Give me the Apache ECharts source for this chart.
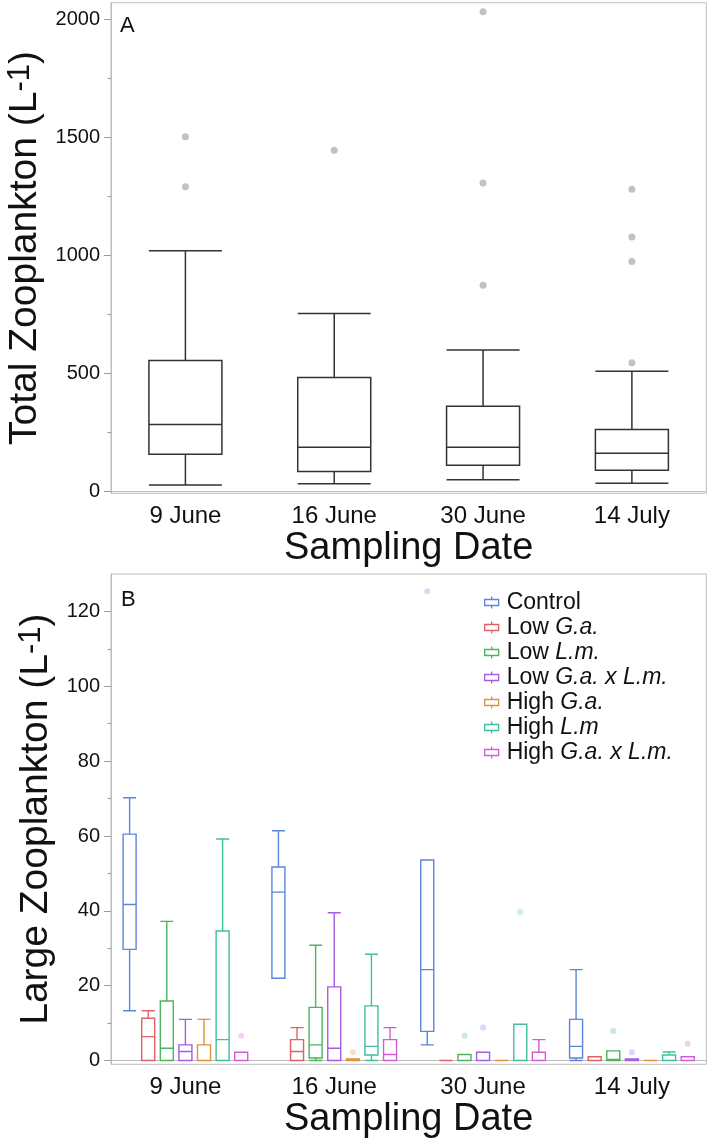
<!DOCTYPE html>
<html><head><meta charset="utf-8">
<script src="https://cdn.jsdelivr.net/npm/echarts@6/dist/echarts.min.js"></script>
<style>html,body{margin:0;padding:0;background:#fff}#c{width:709px;height:1140px}</style>
</head><body><div id="c"></div>
<script>
// ---------- data ----------
const dates = ['9 June', '16 June', '30 June', '14 July'];

// Panel A: [lower whisker, Q1, median, Q3, upper whisker]
const totalBox = [
  [28, 158, 284, 555, 1020],
  [33, 85, 188, 483, 754],
  [50, 112, 188, 362, 600],
  [36, 91, 163, 263, 510]
];
const totalOutliers = [
  ['9 June', 1503], ['9 June', 1291],
  ['16 June', 1445],
  ['30 June', 2032], ['30 June', 1307], ['30 June', 874],
  ['14 July', 1280], ['14 July', 1078], ['14 July', 974], ['14 July', 546]
];
const totalTicks = [0, 500, 1000, 1500, 2000];
const totalMinorTicks = [250, 750, 1250, 1750];

// Panel B
const treatments = ['Control', 'Low G.a.', 'Low L.m.', 'Low G.a. x L.m.', 'High G.a.', 'High L.m', 'High G.a. x L.m.'];
const controlBox   = [[13.3, 29.7, 41.7, 60.5, 70.2], [22, 22, 45, 51.7, 61.4], [4.2, 7.8, 24.3, 53.6, 53.6], [0, 0.7, 3.8, 11, 24.3]];
const lowGaBox     = [[0, 0, 6.4, 11.3, 13.3], [0, 0, 2.4, 5.6, 8.8], [0, 0, 0, 0, 0], [0, 0, 0, 1, 1]];
const lowLmBox     = [[0, 0, 3.3, 15.9, 37.2], [0, 0.7, 4.2, 14.2, 30.8], [0, 0, 0, 1.6, 1.6], [0, 0, 0.3, 2.6, 2.6]];
const lowGaLmBox   = [[0, 0, 2.4, 4.2, 11], [0, 0, 3.3, 19.7, 39.5], [0, 0, 0, 2.2, 2.2], [0, 0, 0.2, 0.4, 0.4]];
const highGaBox    = [[0, 0, 0, 4.2, 11], [0, 0, 0, 0.4, 0.4], [0, 0, 0, 0, 0], [0, 0, 0, 0, 0]];
const highLmBox    = [[0, 0, 5.6, 34.6, 59.2], [0, 1.5, 3.8, 14.6, 28.4], [0, 0, 0, 9.7, 9.7], [0, 0, 0, 1.5, 2.3]];
const highGaLmBox  = [[0, 0, 0, 2.2, 2.2], [0, 0, 1.6, 5.6, 8.8], [0, 0, 0, 2.2, 5.6], [0, 0, 0, 1, 1]];

const controlOut  = [['30 June', 125.4]];
const lowGaOut    = [];
const lowLmOut    = [['30 June', 6.6], ['14 July', 7.9]];
const lowGaLmOut  = [['30 June', 8.8], ['14 July', 2.2]];
const highGaOut   = [['16 June', 2.2]];
const highLmOut   = [['30 June', 39.7]];
const highGaLmOut = [['9 June', 6.6], ['14 July', 4.5]];

const largeTicks = [0, 20, 40, 60, 80, 100, 120];
const largeMinorTicks = [10, 30, 50, 70, 90, 110];

// ---------- style / layout ----------
const boxesB = [controlBox, lowGaBox, lowLmBox, lowGaLmBox, highGaBox, highLmBox, highGaLmBox];
const outB = [controlOut, lowGaOut, lowLmOut, lowGaLmOut, highGaOut, highLmOut, highGaLmOut];
const colors = ['#5a86dc', '#dd6368', '#4cb45e', '#a55de2', '#e0923a', '#3fbfa0', '#d25bd6'];
const outColors = ['rgba(90,134,220,0.35)', 'rgba(221,99,104,0.35)', 'rgba(76,180,94,0.35)', 'rgba(165,93,226,0.35)', 'rgba(224,146,58,0.35)', 'rgba(63,191,160,0.35)', 'rgba(210,91,214,0.35)'];
const legendRich = {
  'Control': 'Control',
  'Low G.a.': 'Low {i|G.a.}',
  'Low L.m.': 'Low {i|L.m.}',
  'Low G.a. x L.m.': 'Low {i|G.a. x L.m.}',
  'High G.a.': 'High {i|G.a.}',
  'High L.m': 'High {i|L.m}',
  'High G.a. x L.m.': 'High {i|G.a. x L.m.}'
};

const FONT = '"Liberation Sans", Arial, Helvetica, sans-serif';
const TXT = '#111';
const FRAME = '#bdbdbd';
const TICK = '#9a9a9a';
const GL = 111, GW = 595.3;
const A_TOP = 2.7, A_H = 490.6;
const B_TOP = 574, B_H = 490.3;
const slot = GW / 4 / 8;

function mkGrid(left, top, height, show) {
  return { left: left, width: GW, top: top, height: height, show: show, borderColor: FRAME, borderWidth: 1,
           containLabel: false, outerBoundsMode: 'none' };
}
const grids = [mkGrid(GL, A_TOP, A_H, true), mkGrid(GL, B_TOP, B_H, true)];
const xAxes = [];
const yAxes = [];
function catAxis(gi, name, gap) {
  return {
    gridIndex: gi, type: 'category', data: dates,
    axisLine: { show: true, lineStyle: { color: FRAME } },
    axisTick: { show: false },
    axisLabel: { fontSize: 24, color: TXT, fontFamily: FONT, margin: 11 },
    name: name, nameLocation: 'middle', nameGap: gap,
    nameTextStyle: { fontSize: 38, color: TXT, fontFamily: FONT }
  };
}
xAxes.push(catAxis(0, 'Sampling Date', 35));
xAxes.push(catAxis(1, 'Sampling Date', 36));

function valAxis(gi, min, max, ticks, nameStr, gap) {
  return {
    gridIndex: gi, type: 'value', position: 'left', offset: 0, min: min, max: max,
    axisLine: { show: true, lineStyle: { color: FRAME } },
    axisTick: { show: true, length: 7, lineStyle: { color: TICK }, customValues: ticks },
    axisLabel: { customValues: ticks, fontSize: 20, color: TXT, fontFamily: FONT, margin: 11,
                 formatter: function (v) { return String(v); } },
    splitLine: { show: false },
    name: nameStr, nameLocation: 'middle', nameGap: gap,
    nameTextStyle: {
      color: TXT, fontFamily: FONT,
      rich: {
        t: { fontSize: 39, lineHeight: 40, fontFamily: FONT, color: TXT },
        s: { fontSize: 31, lineHeight: 31, verticalAlign: 'top', fontFamily: FONT, color: TXT }
      }
    }
  };
}
function minorAxis(gi, min, max, ticks) {
  return {
    gridIndex: gi, type: 'value', position: 'left', offset: 0, min: min, max: max,
    axisLine: { show: false },
    axisTick: { show: true, length: 3.5, lineStyle: { color: TICK }, customValues: ticks },
    axisLabel: { show: false },
    splitLine: { show: false }
  };
}
yAxes.push(valAxis(0, -7, 2070, totalTicks, '{t|Total Zooplankton (L}{s|-1}{t|)}', 55));
yAxes.push(minorAxis(0, -7, 2070, totalMinorTicks));
yAxes.push(valAxis(1, -1, 130, largeTicks, '{t|Large Zooplankton (L}{s|-1}{t|)}', 45));
yAxes.push(minorAxis(1, -1, 130, largeMinorTicks));

const series = [
  {
    type: 'boxplot', xAxisIndex: 0, yAxisIndex: 0, data: totalBox, boxWidth: [73, 73],
    itemStyle: { color: '#fff', borderColor: '#333', borderWidth: 1.5 }, silent: true
  },
  {
    type: 'scatter', xAxisIndex: 0, yAxisIndex: 0, data: totalOutliers, symbolSize: 7,
    itemStyle: { color: '#b3b3b3' }, silent: true
  }
];

treatments.forEach(function (name, k) {
  const off = (k - 3) * slot;
  grids.push(mkGrid(GL + off, B_TOP, B_H, false));
  const gi = grids.length - 1;
  xAxes.push({ gridIndex: gi, type: 'category', data: dates, show: false });
  yAxes.push({ gridIndex: gi, type: 'value', min: -1, max: 130, show: false, splitLine: { show: false } });
  const xi = xAxes.length - 1, yi = yAxes.length - 1;
  series.push({
    name: name, type: 'boxplot', xAxisIndex: xi, yAxisIndex: yi, data: boxesB[k], boxWidth: [13, 13],
    itemStyle: { color: '#fff', borderColor: colors[k], borderWidth: 1.4 }, silent: true
  });
  series.push({
    name: name + ' outliers', type: 'scatter', xAxisIndex: xi, yAxisIndex: yi, data: outB[k], symbolSize: 6,
    itemStyle: { color: outColors[k] }, silent: true
  });
});

const icon = 'path://M1,3 L15,3 L15,9 L1,9 Z M8,0 L8,3 M8,9 L8,12';

const option = {
  animation: false,
  backgroundColor: '#fff',
  textStyle: { fontFamily: FONT },
  title: [
    { text: 'A', left: 120, top: 15, padding: 0, textStyle: { fontSize: 22, fontWeight: 'normal', color: TXT, fontFamily: FONT } },
    { text: 'B', left: 121, top: 589, padding: 0, textStyle: { fontSize: 22, fontWeight: 'normal', color: TXT, fontFamily: FONT } }
  ],
  legend: {
    orient: 'vertical', left: 484, top: 591, padding: 0,
    itemWidth: 20, itemHeight: 12, itemGap: 2, selectedMode: false,
    data: treatments.map(function (n, i) {
      return { name: n, icon: icon, itemStyle: { color: '#fff', borderColor: colors[i], borderWidth: 1.3 } };
    }),
    formatter: function (n) { return legendRich[n]; },
    textStyle: {
      fontSize: 23, lineHeight: 23, color: TXT, fontFamily: FONT,
      rich: { i: { fontStyle: 'italic', fontSize: 23, lineHeight: 23, color: TXT, fontFamily: FONT } }
    }
  },
  grid: grids,
  xAxis: xAxes,
  yAxis: yAxes,
  series: series
};

const chart = echarts.init(document.getElementById('c'), null, { renderer: 'canvas' });
chart.setOption(option);
</script>
</body></html>
